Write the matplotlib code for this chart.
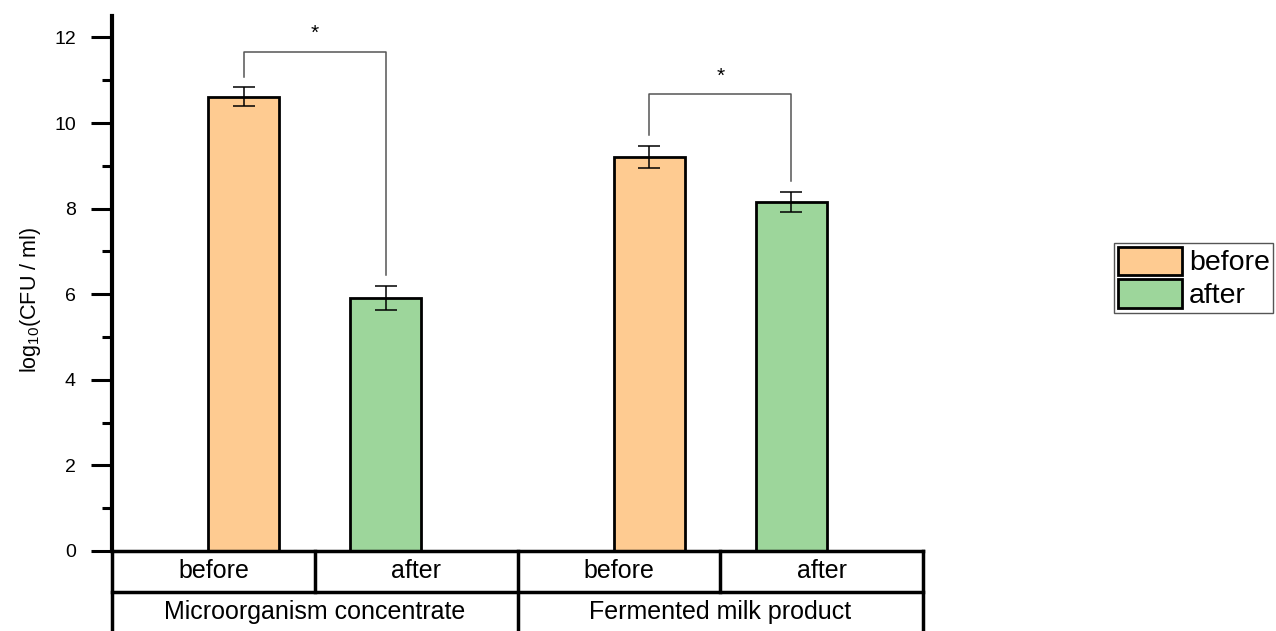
import matplotlib.pyplot as plt
from matplotlib.patches import Patch

plt.rcParams['font.family'] = ['Liberation Sans', 'DejaVu Sans']
plt.rcParams['mathtext.fontset'] = 'custom'
plt.rcParams['mathtext.rm'] = 'Liberation Sans'
plt.rcParams['mathtext.it'] = 'Liberation Sans:italic'

# log10 CFU/ml, mean +- error
conditions = ['before', 'after', 'before', 'after']
groups = ['Microorganism concentrate', 'Fermented milk product']
means = [10.61, 5.91, 9.21, 8.15]
errors = [0.22, 0.28, 0.25, 0.24]
bracket_tops = [11.67, 10.67]
marks = ['*', '*']

bar_pos = [0.65, 1.35, 2.65, 3.35]
colors = {'before': '#FECB91', 'after': '#9DD69B'}

fig = plt.figure(figsize=(12.76, 6.31), dpi=100)
ax = fig.add_axes([0.0878, 0.1268, 0.6356, 0.8478])

for x, m, e, c in zip(bar_pos, means, errors, conditions):
    ax.bar(x, m, width=0.35, color=colors[c], edgecolor='black', linewidth=2, zorder=2)
    ax.errorbar(x, m, yerr=e, color='black', capsize=8, elinewidth=1.1,
                capthick=1.1, zorder=3)

# significance brackets
for i in range(len(groups)):
    a, b = 2 * i, 2 * i + 1
    top = bracket_tops[i]
    ya = means[a] + errors[a] + 0.25
    yb = means[b] + errors[b] + 0.25
    ax.plot([bar_pos[a], bar_pos[a], bar_pos[b], bar_pos[b]], [ya, top, top, yb],
            color='#555555', lw=1.1, zorder=3)
    ax.text((bar_pos[a] + bar_pos[b]) / 2, top + 0.3, marks[i], ha='center',
            va='baseline', fontsize=15)

ax.set_xlim(0, 4)
ax.set_ylim(0, 12.5)
ax.set_yticks(range(0, 13, 2))
ax.set_yticks(range(1, 13, 2), minor=True)
ax.set_xticks([])
ax.tick_params(axis='y', which='major', length=15, width=2.2, labelsize=14, pad=11)
ax.tick_params(axis='y', which='minor', length=7.5, width=2.2)
ax.spines['top'].set_visible(False)
ax.spines['right'].set_visible(False)
ax.spines['left'].set_linewidth(3)
ax.spines['bottom'].set_linewidth(2.5)
ax.set_ylabel('log$_{10}$(CFU / ml)', fontsize=15.5)
ax.yaxis.set_label_coords(-0.085, 0.47)

# category table under the axis
tr = ax.get_xaxis_transform()
row1 = -0.0766
bottom = -0.18
lines = [
    ([0, 4], [row1, row1]),
    ([0, 0], [0, bottom]),
    ([1, 1], [0, row1]),
    ([2, 2], [0, bottom]),
    ([3, 3], [0, row1]),
    ([4, 4], [0, bottom]),
]
for xs, ys in lines:
    ax.plot(xs, ys, color='black', lw=2.5, transform=tr, clip_on=False,
            solid_capstyle='projecting')

for i, c in enumerate(conditions):
    ax.text(i + 0.5, row1 / 2, c, transform=tr, ha='center', va='center', fontsize=18)
for i, g in enumerate(groups):
    ax.text(2 * i + 1, -0.114, g, transform=tr, ha='center', va='center', fontsize=18)

handles = [Patch(facecolor=colors['before'], edgecolor='black', linewidth=2),
           Patch(facecolor=colors['after'], edgecolor='black', linewidth=2)]
leg = fig.legend(handles, ['before', 'after'], loc='upper left',
                 bbox_to_anchor=(1114 / 1276, 1 - 243 / 631), fontsize=20.5,
                 handlelength=2.25, handleheight=1.15, labelspacing=0.1,
                 borderpad=0.13, handletextpad=0.25, borderaxespad=0,
                 fancybox=False, framealpha=1)
leg.get_frame().set_edgecolor('#555555')
leg.get_frame().set_linewidth(1)

fig.savefig('out.png', dpi=100)
